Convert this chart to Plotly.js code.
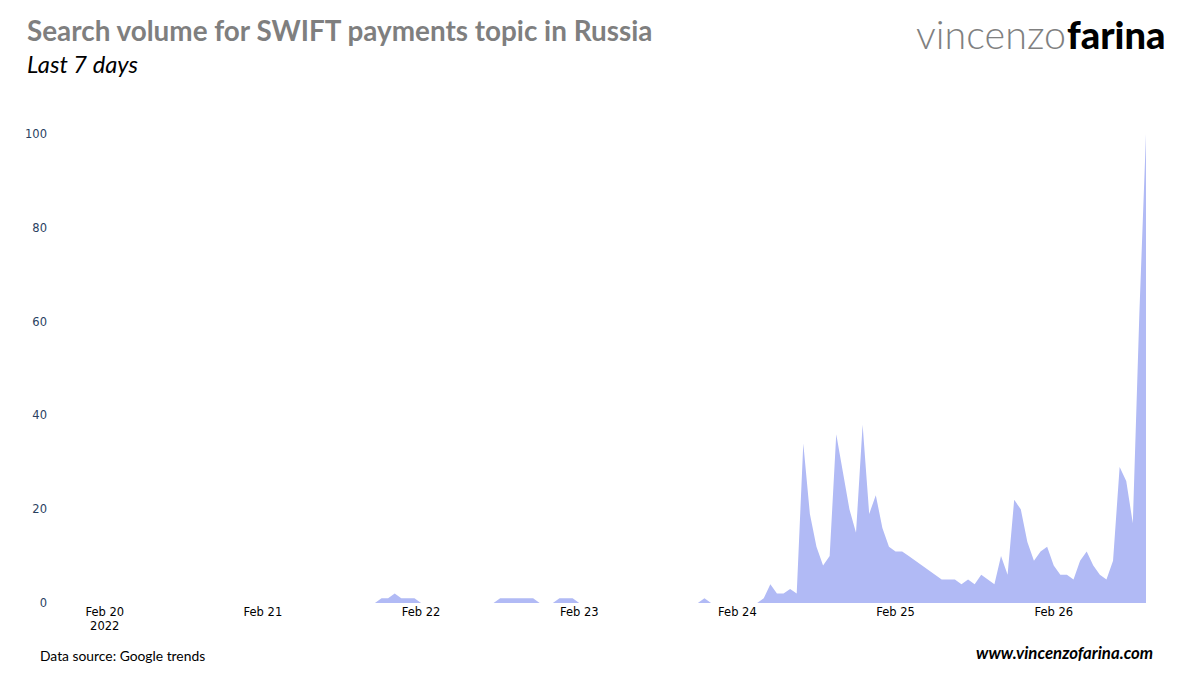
<!DOCTYPE html>
<html><head><meta charset="utf-8">
<script src="https://cdn.plot.ly/plotly-3.0.1.min.js"></script>
<style>html,body{margin:0;padding:0;background:#fff}</style></head>
<body><div id="chart" style="width:1200px;height:678px"></div>
<script>
const startHour = "2022-02-19T16:00:00Z";
const zerosBeforeFeb21Evening = 49;
const feb21Evening = [0,1,1,2,1,1,1,0];
const feb22Morning = [0,0,0,0,0,0,0,0,0,0,0];
const feb22Midday = [1,1,1,1,1,1,0,0,0];
const feb22Night = [1,1,1,0];
const feb23 = [0,0,0,0,0,0,0,0,0,0,0,0,0,0,0,0,0,0,1,0,0,0,0];
const feb24 = [0,0,0,0,1,4,2,2,3,2,34,19,12,8,10,36,28,20,15,38,19,23,16,12];
const feb25 = [11,11,10,9,8,7,6,5,5,5,4,5,4,6,5,4,10,6,22,20,13,9,11,12];
const feb26 = [8,6,6,5,9,11,8,6,5,9,29,26,17,62,100];
const tickDates = ["2022-02-20","2022-02-21","2022-02-22","2022-02-23","2022-02-24","2022-02-25","2022-02-26"];
const tickLabels = ["Feb 20<br>2022","Feb 21","Feb 22","Feb 23","Feb 24","Feb 25","Feb 26"];
const yTicks = [0,20,40,60,80,100];

const values = [].concat(new Array(zerosBeforeFeb21Evening).fill(0), feb21Evening, feb22Morning, feb22Midday, feb22Night, feb23, feb24, feb25, feb26);
const t0 = Date.parse(startHour);
const times = values.map((_, i) => new Date(t0 + i * 3600000).toISOString());

const data = [{
  type: "scatter", mode: "lines", x: times, y: values,
  fill: "tozeroy", fillcolor: "#b1baf5",
  line: {width: 0, color: "#b1baf5"}, hoverinfo: "x+y"
}];
const titleFont = "Lato, 'Open Sans', sans-serif";
const L = 52, R = 54, T = 134, B = 75;
const notes = [
  {text:"Search volume for SWIFT payments topic in Russia", px:25, py:31, a:"left", font:{family:titleFont,size:27.85,color:"#7f7f7f",weight:700}},
  {text:"<i>Last 7 days</i>", px:25, py:64, a:"left", font:{family:titleFont,size:23.7,color:"#000"}},
  {text:"vincenzo", px:1068, py:34, a:"right", font:{family:"Lato, Inter, sans-serif",size:39.5,color:"#808080",weight:300}},
  {text:"farina", px:1065, py:34, a:"left", font:{family:"Lato, Inter, sans-serif",size:38,color:"#000",weight:900}},
  {text:"Data source: Google trends", px:38, py:655.5, a:"left", font:{family:"Lato, sans-serif",size:13.85,color:"#000"}},
  {text:"<i>www.vincenzofarina.com</i>", px:1155, py:652, a:"right", font:{family:"Lato, sans-serif",size:16.8,color:"#000",weight:700}}
];
const layout = {
  width: 1200, height: 678, showlegend: false,
  paper_bgcolor: "#fff", plot_bgcolor: "#fff",
  margin: {l: L, r: R, t: T, b: B},
  xaxis: {type: "date", range: [times[0], times[times.length-1]], tickmode: "array",
    tickvals: tickDates, ticktext: tickLabels, showgrid: false, zeroline: false, showline: false,
    ticks: "", tickfont: {family: "'DejaVu Sans', Verdana, sans-serif", size: 11.5, color: "#000"}},
  yaxis: {range: [0, 100], tickmode: "array", tickvals: yTicks, showgrid: false, zeroline: false, showline: false,
    ticks: "", ticklabelstandoff: 4, tickfont: {family: "'DejaVu Sans', Verdana, sans-serif", size: 11.5, color: "#2a3f5f"}},
  annotations: notes.map(o => ({
    xref:"paper", yref:"paper",
    x:(o.px-L)/(1200-L-R), y:(678-B-o.py)/(678-T-B),
    xanchor:o.a, yanchor:"middle", showarrow:false,
    text:o.text, font:o.font
  }))
};
Plotly.newPlot("chart", data, layout, {displayModeBar:false});
</script></body></html>
